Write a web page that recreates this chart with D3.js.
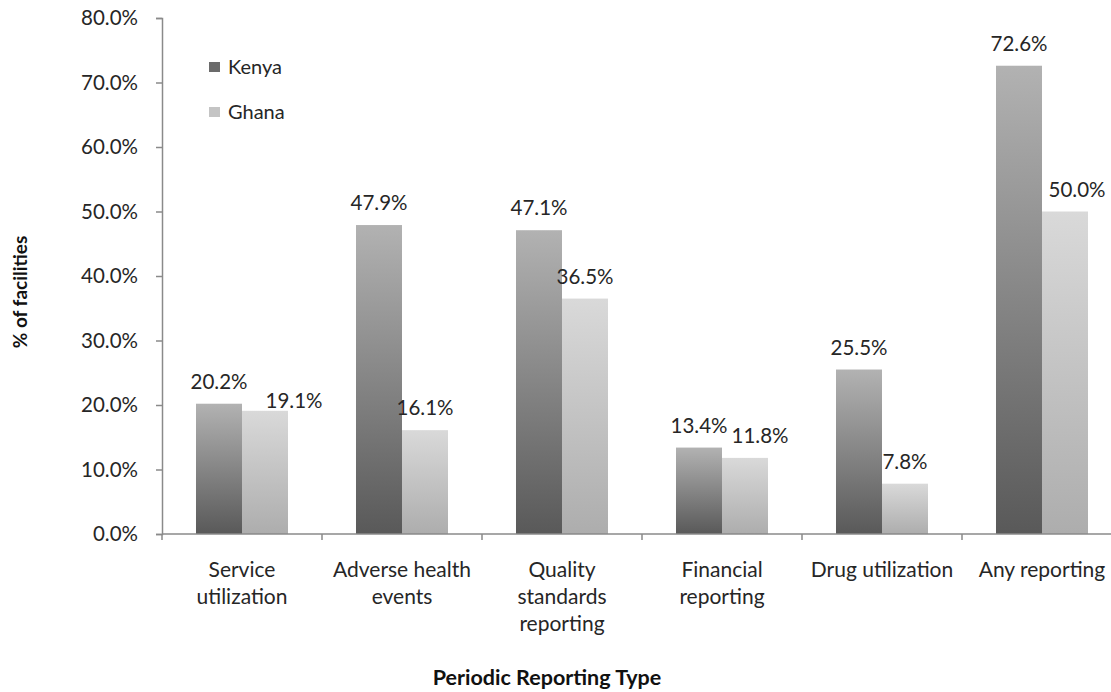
<!DOCTYPE html>
<html>
<head>
<meta charset="utf-8">
<script src="https://cdn.jsdelivr.net/npm/d3@7"></script>
<style>
  html, body { margin: 0; padding: 0; background: #fff; }
  svg { display: block; }
  text { font-family: Lato, "Open Sans", sans-serif; fill: #262626; }
</style>
</head>
<body>
<svg id="chart" width="1111" height="692"></svg>
<script>
// ---- data ----
const categories = [
  "Service\nutilization",
  "Adverse health\nevents",
  "Quality\nstandards\nreporting",
  "Financial\nreporting",
  "Drug utilization",
  "Any reporting"
];
const series = ["Kenya", "Ghana"];
const kenyaValues = [20.2, 47.9, 47.1, 13.4, 25.5, 72.6];
const ghanaValues = [19.1, 16.1, 36.5, 11.8, 7.8, 50.0];
const yTicks = [0, 10, 20, 30, 40, 50, 60, 70, 80];
const xTitle = "Periodic Reporting Type";
const yTitle = "% of facilities";

(function () {
// ---- layout ----
const svg = d3.select("#chart");
const mLeft = 162, mRight = 1122, mTop = 18, mBottom = 534;

const x0 = d3.scaleBand().domain(categories).range([mLeft, mRight]).padding(0);
const x1 = d3.scaleBand().domain(series).range([0, x0.bandwidth()]).paddingInner(0).paddingOuter(0.739);
const y = d3.scaleLinear().domain([0, 80]).range([mBottom, mTop]);

const valuesBySeries = { Kenya: kenyaValues, Ghana: ghanaValues };

// gradients
const defs = svg.append("defs");
const grads = {
  Kenya: ["#b2b2b2", "#595959"],
  Ghana: ["#d9d9d9", "#adadad"]
};
series.forEach(s => {
  const g = defs.append("linearGradient").attr("id", "grad-" + s)
    .attr("x1", 0).attr("y1", 0).attr("x2", 0).attr("y2", 1);
  g.append("stop").attr("offset", "0%").attr("stop-color", grads[s][0]);
  g.append("stop").attr("offset", "100%").attr("stop-color", grads[s][1]);
});
const legendColors = { Kenya: "#6b6b6b", Ghana: "#c4c4c4" };

// y axis
const yAxis = d3.axisLeft(y).tickValues(yTicks).tickSize(6).tickPadding(18)
  .tickFormat(d => d.toFixed(1) + "%");
const gy = svg.append("g").attr("transform", `translate(${mLeft},0)`).call(yAxis);
gy.select(".domain").attr("stroke", "#8a8a8a").attr("stroke-width", 1.5);
gy.selectAll(".tick line").attr("stroke", "#8a8a8a").attr("stroke-width", 1.5);
gy.selectAll(".tick text").attr("font-size", 20.5).attr("fill", "#262626")
  .style("font-family", "Lato, sans-serif");

// bars
const groups = svg.append("g").selectAll("g")
  .data(categories).join("g")
  .attr("transform", d => `translate(${x0(d)},0)`);

groups.selectAll("rect")
  .data((c, i) => series.map(s => ({ s, v: valuesBySeries[s][i], ci: i })))
  .join("rect")
  .attr("x", d => x1(d.s))
  .attr("width", x1.bandwidth())
  .attr("y", d => y(d.v))
  .attr("height", d => y(0) - y(d.v))
  .attr("fill", d => `url(#grad-${d.s})`);

// value labels (with Excel-like collision nudges)
const nudge = { "Ghana-0": [29, 12], "Ghana-3": [15, 0], "Ghana-5": [12, 0] };
groups.selectAll("text.val")
  .data((c, i) => series.map(s => ({ s, v: valuesBySeries[s][i], ci: i })))
  .join("text")
  .attr("class", "val")
  .attr("text-anchor", "middle")
  .attr("font-size", 20.5)
  .attr("x", d => x1(d.s) + x1.bandwidth() / 2 + ((nudge[d.s + "-" + d.ci] || [0, 0])[0]))
  .attr("y", d => y(d.v) - 15 + ((nudge[d.s + "-" + d.ci] || [0, 0])[1]))
  .text(d => d.v.toFixed(1) + "%");

// x axis
const gx = svg.append("g");
gx.append("line").attr("x1", mLeft).attr("x2", mRight).attr("y1", mBottom).attr("y2", mBottom)
  .attr("stroke", "#8a8a8a").attr("stroke-width", 1.5);
const boundaries = categories.map(c => x0(c)).concat([x0.range()[1]]);
gx.selectAll("line.tick").data(boundaries).join("line")
  .attr("class", "tick")
  .attr("x1", d => d).attr("x2", d => d)
  .attr("y1", mBottom).attr("y2", mBottom + 6)
  .attr("stroke", "#8a8a8a").attr("stroke-width", 1.5);

const catLabels = gx.selectAll("text.cat").data(categories).join("text")
  .attr("class", "cat")
  .attr("text-anchor", "middle")
  .attr("font-size", 21)
  .attr("x", d => x0(d) + x0.bandwidth() / 2)
  .attr("y", 577);
catLabels.each(function(d) {
  const t = d3.select(this);
  d.split("\n").forEach((line, i) => {
    t.append("tspan").attr("x", x0(d) + x0.bandwidth() / 2)
      .attr("dy", i === 0 ? 0 : 27).text(line);
  });
});

// axis titles
svg.append("text").attr("x", 547).attr("y", 685)
  .attr("text-anchor", "middle").attr("font-size", 21.5).attr("font-weight", "bold")
  .style("fill", "#111")
  .text(xTitle);
svg.append("text")
  .attr("transform", "translate(27,292) rotate(-90)")
  .attr("text-anchor", "middle").attr("font-size", 19).attr("font-weight", "bold")
  .style("fill", "#111")
  .text(yTitle);

// legend
const legend = svg.append("g");
series.forEach((s, i) => {
  const ly = 62 + i * 45;
  legend.append("rect").attr("x", 209).attr("y", ly).attr("width", 11).attr("height", 10)
    .attr("fill", legendColors[s]);
  legend.append("text").attr("x", 228).attr("y", ly + 12).attr("font-size", 20).text(s);
});
})();
</script>
</body>
</html>
